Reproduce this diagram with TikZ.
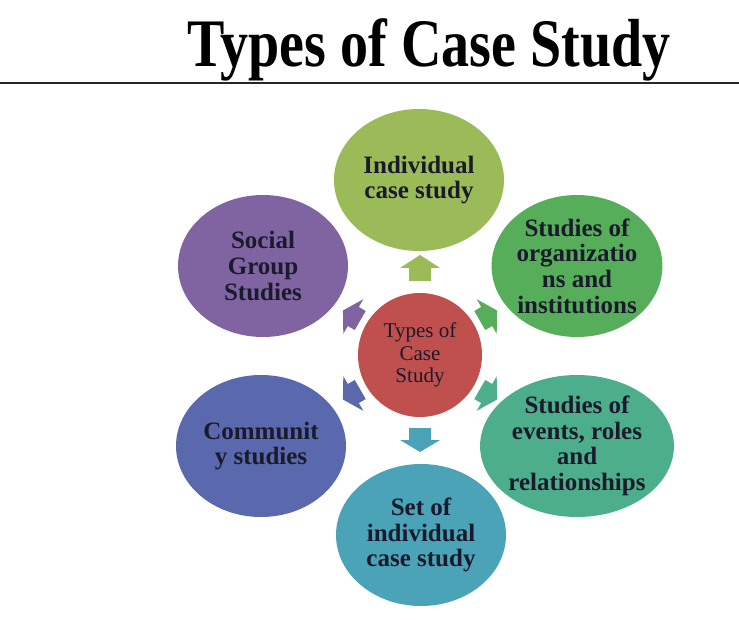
\documentclass[tikz,border=0pt]{standalone}
\usepackage{fontspec}
\setmainfont{Liberation Serif}
\usetikzlibrary{shapes.geometric}
\definecolor{chub}{HTML}{C0504D}
\definecolor{cind}{HTML}{9BBB59}
\definecolor{corg}{HTML}{56AE5B}
\definecolor{cevt}{HTML}{4DAE8B}
\definecolor{cset}{HTML}{4BA3B7}
\definecolor{ccom}{HTML}{5A68AE}
\definecolor{csoc}{HTML}{8064A2}
\definecolor{ctxt}{HTML}{1A1A2C}

\begin{document}
\begin{tikzpicture}[x=1pt,y=1pt,
  kind/.style={ellipse,minimum width=170pt,minimum height=142pt,inner sep=0pt,align=center,
    text=ctxt,font=\fontsize{25}{25.7}\selectfont\bfseries},
  hub/.style={circle,minimum size=124pt,inner sep=0pt,fill=chub,align=center,
    text=ctxt,font=\fontsize{21}{22.5}\selectfont}]
  \useasboundingbox (0,0) rectangle (739,-620);
  \node[anchor=base,xscale=0.824,font=\fontsize{68}{70}\selectfont\bfseries] (title) at (429,-67) {Types of Case Study};
  \coordinate (rl) at (0,-83);
  \coordinate (rr) at (739,-83);
  \draw[line width=2.5pt,black!85] (rl) -- (rr);

  \node[hub] (hub) at (420,-355) {Types of\\Case\\Study};
  \node[kind,fill=cind] (ind) at (419,-180) {Individual\\case study};
  \node[kind,fill=corg] (org) at (577,-266) {Studies of\\organizatio\\ns and\\institutions};
  \node[kind,fill=cevt] (evt) at (577,-446) {Studies of\\events, roles\\and\\relationships};
  \node[kind,fill=cset] (set) at (421,-535) {Set of\\individual\\case study};
  \node[kind,fill=ccom] (com) at (261,-446) {Communit\\y studies};
  \node[kind,fill=csoc] (soc) at (263,-266) {Social\\Group\\Studies};

  \foreach \a/\c/\t/\b/\p in {90/cind/74/87/100,-90/cset/73/85/97,
      30/corg/69/77/89,-30/cevt/69/77/89,-150/ccom/69/77/89,150/csoc/69/77/89}
    \fill[\c,shift={(hub)},rotate=\a] (\t,-11) -- (\b,-11) -- (\b,-20) -- (\p,0)
      -- (\b,20) -- (\b,11) -- (\t,11) -- cycle;
\end{tikzpicture}
\end{document}
